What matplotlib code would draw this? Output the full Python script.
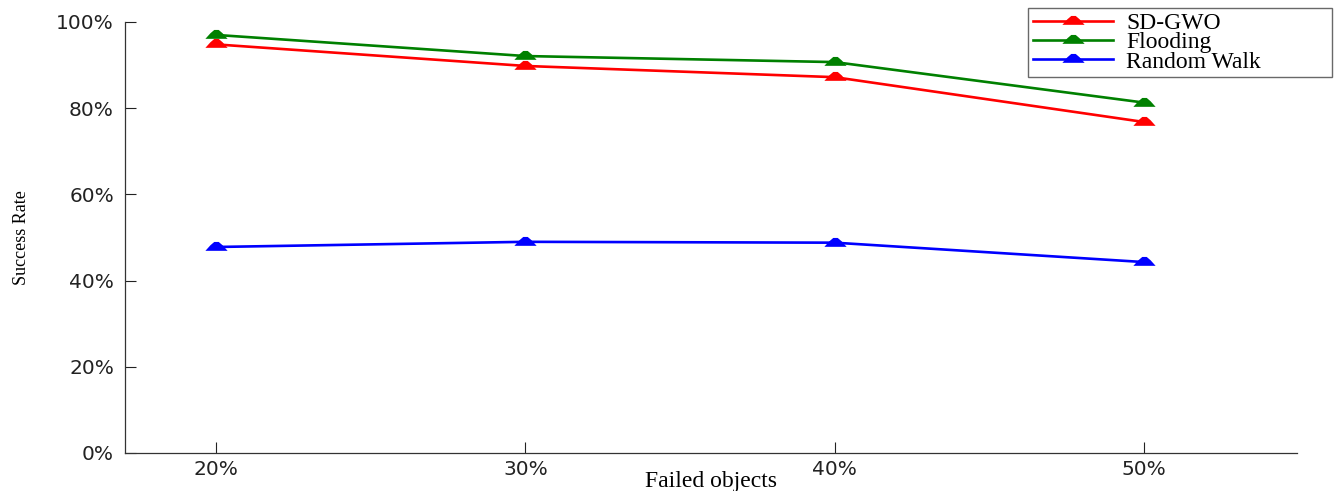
import matplotlib
matplotlib.use("Agg")
import matplotlib.pyplot as plt
from matplotlib.path import Path

# data
failed = [20, 30, 40, 50]
tick_labels = ["20%", "30%", "40%", "50%"]
sd_gwo = [94.8, 89.8, 87.2, 76.8]
flooding = [97.0, 92.1, 90.7, 81.3]
random_walk = [47.8, 49.0, 48.8, 44.3]

series = [
    ("SD-GWO", sd_gwo, "red"),
    ("Flooding", flooding, "green"),
    ("Random Walk", random_walk, "blue"),
]

# flat "house" shaped marker like the original matlab export
marker = Path([(-1.0, -0.3), (1.0, -0.3), (0.55, 0.2), (0.2, 0.5),
               (-0.2, 0.5), (-0.55, 0.2), (-1.0, -0.3)],
              [Path.MOVETO] + [Path.LINETO] * 5 + [Path.CLOSEPOLY])

fig = plt.figure(figsize=(13.39, 4.91), dpi=100)
ax = fig.add_axes([125 / 1339, 1 - 453 / 491, (1297 - 125) / 1339, (453 - 22) / 491])

for name, vals, col in series:
    ax.plot(failed, vals, color=col, lw=1.9, marker=marker, markersize=16,
            markeredgewidth=0, label=name)

ax.set_xlim(17.05, 54.95)
ax.set_ylim(0, 100)
ax.set_xticks(failed)
ax.set_xticklabels(tick_labels)
ax.set_yticks([0, 20, 40, 60, 80, 100])
ax.set_yticklabels(["0%", "20%", "40%", "60%", "80%", "100%"])
ax.tick_params(direction="in", length=8, width=0.8, labelsize=14.5, colors="#222222")
ax.tick_params(axis="y", pad=8)
ax.tick_params(axis="x", pad=5)
for lab in ax.get_xticklabels() + ax.get_yticklabels():
    lab.set_family("DejaVu Sans")

for s in ["top", "right"]:
    ax.spines[s].set_visible(False)
for s in ["left", "bottom"]:
    ax.spines[s].set_linewidth(0.9)
    ax.spines[s].set_color("#333333")

ax.set_xlabel("Failed objects", family="Liberation Serif", fontsize=17, va="center")
ax.xaxis.set_label_coords(0.5, (453 - 481) / 431)
ax.set_ylabel("Success Rate", family="Liberation Serif", fontsize=13, va="center")
ax.yaxis.set_label_coords((22 - 125) / 1172, 0.5)

x0, y1 = 1028 / 1339, 1 - 8 / 491
leg = fig.legend(loc="upper left", bbox_to_anchor=(x0, y1 - 65 / 491, 304 / 1339, 65 / 491),
                 mode="expand",
                 prop={"family": "Liberation Serif", "size": 17},
                 frameon=True, fancybox=False, borderpad=0.2, labelspacing=-0.1,
                 handlelength=3.4, handletextpad=0.55, borderaxespad=0)
leg.get_frame().set_edgecolor("#444444")
leg.get_frame().set_linewidth(1.0)

fig.savefig("out.png", dpi=100)
